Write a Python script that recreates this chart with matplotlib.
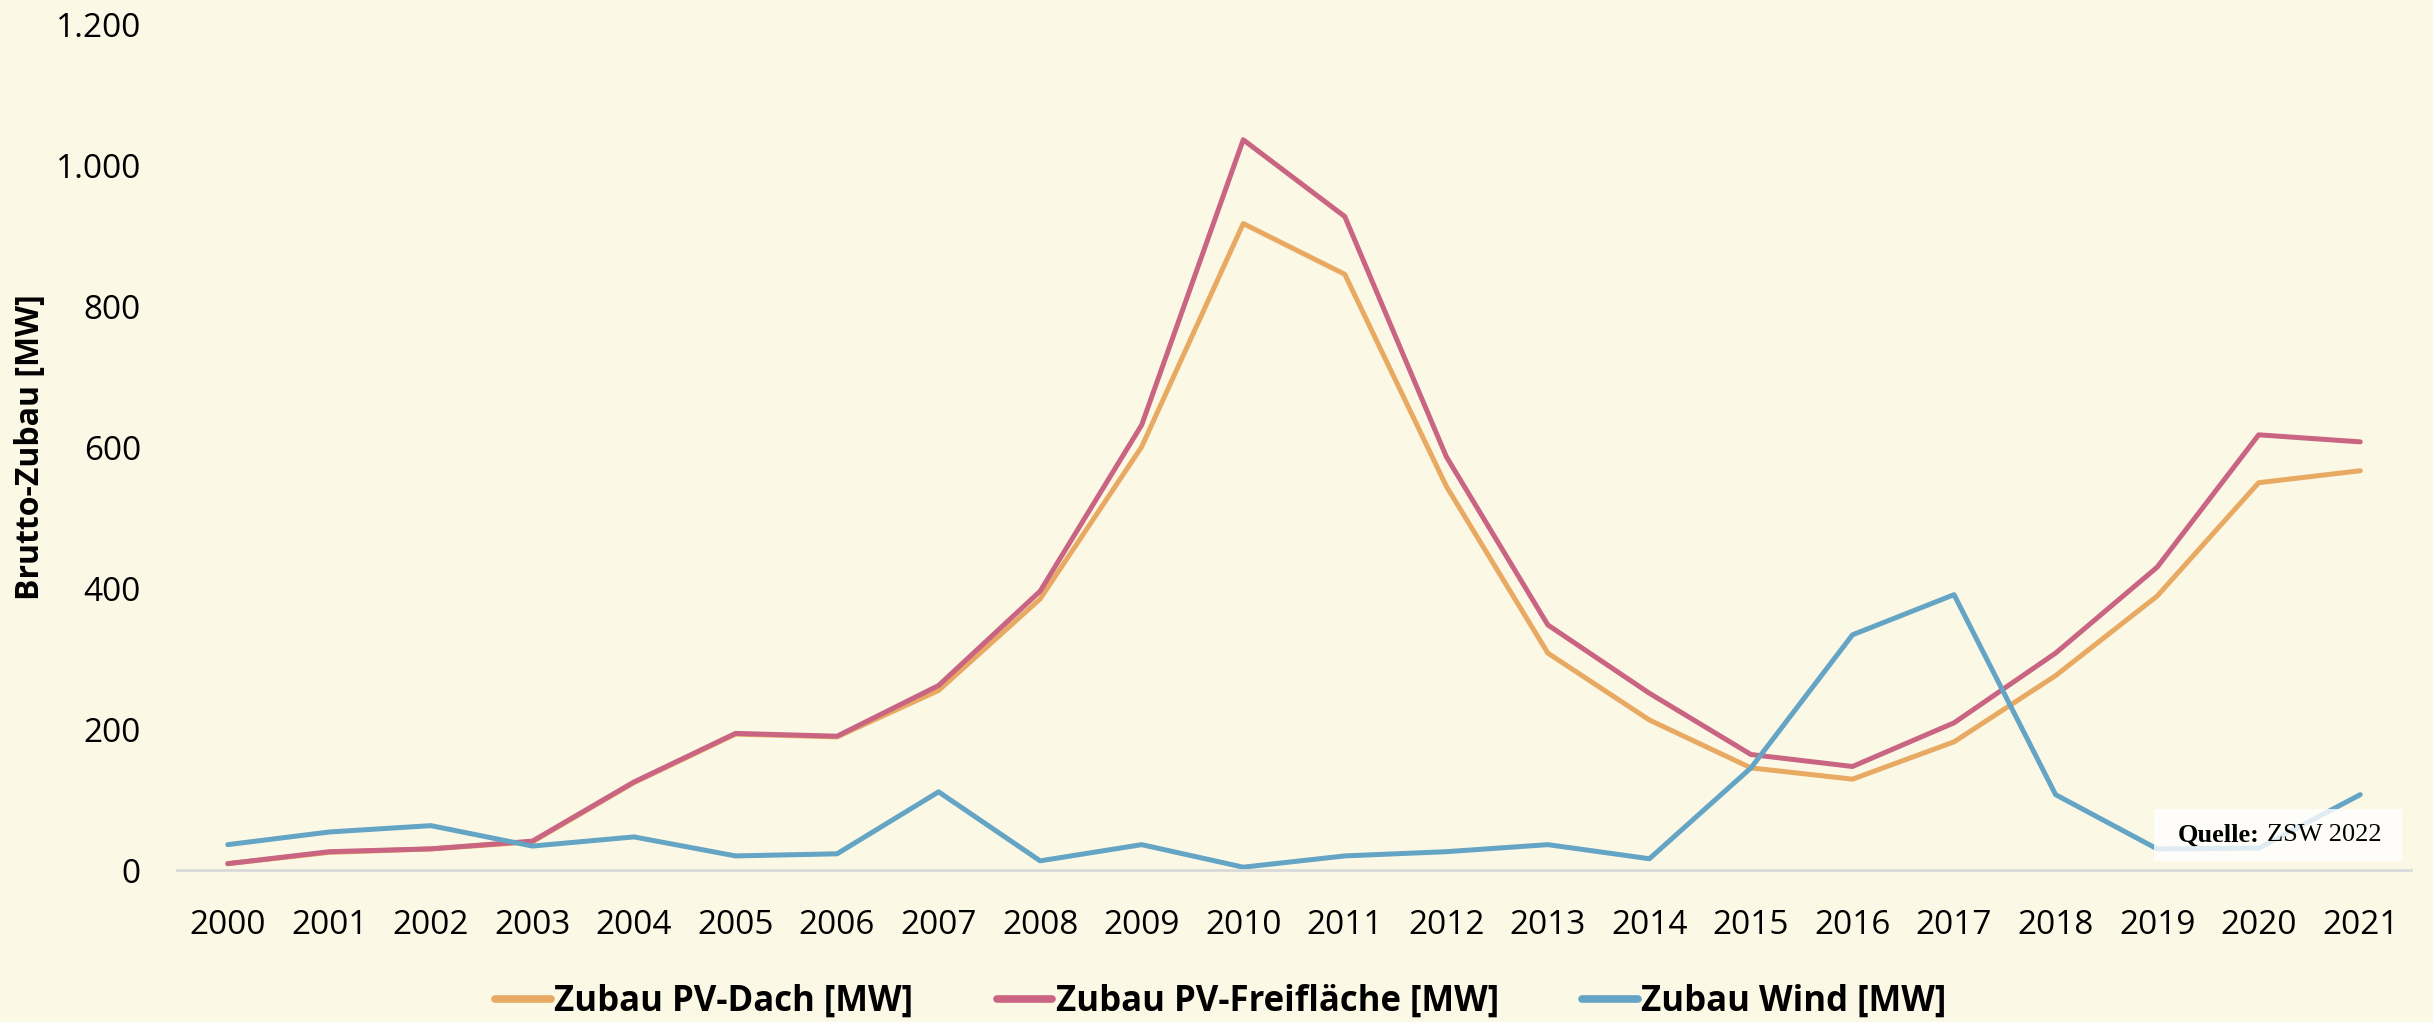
import matplotlib
matplotlib.use("Agg")
import matplotlib.pyplot as plt
from matplotlib.ticker import FuncFormatter, FixedLocator
from matplotlib.lines import Line2D
from matplotlib.patches import Rectangle

years = ["2000", "2001", "2002", "2003", "2004", "2005", "2006", "2007", "2008", "2009", "2010",
         "2011", "2012", "2013", "2014", "2015", "2016", "2017", "2018", "2019", "2020", "2021"]
pv_dach = [9, 25, 30, 40, 124, 193, 189, 255, 385, 601, 918,
           846, 545, 308, 213, 145, 129, 182, 276, 389, 550, 567]
pv_frei = [9, 26, 30, 41, 125, 194, 190, 262, 396, 632, 1037,
           928, 587, 348, 251, 164, 147, 209, 308, 430, 618, 608]
wind = [36, 54, 63, 34, 47, 20, 23, 111, 13, 36, 4,
        20, 26, 36, 16, 145, 334, 391, 107, 30, 31, 107]
series_names = ["Zubau PV-Dach [MW]", "Zubau PV-Freifläche [MW]", "Zubau Wind [MW]"]
y_ticks = [0, 200, 400, 600, 800, 1000, 1200]

BG = "#FCF8E6"
C_DACH = "#E8AA63"
C_FREI = "#C96482"
C_WIND = "#64A4C4"

plt.rcParams['font.family'] = ['Open Sans', 'DejaVu Sans']

W, H = 2433, 1022
fig = plt.figure(figsize=(W / 100, H / 100), dpi=100, facecolor=BG)
ax = fig.add_axes([177 / W, 1 - 870 / H, (2411 - 177) / W, (870 - 25) / H])
ax.set_facecolor(BG)

x = list(range(len(years)))
for vals, col, name in [(pv_dach, C_DACH, series_names[0]),
                        (pv_frei, C_FREI, series_names[1]),
                        (wind, C_WIND, series_names[2])]:
    ax.plot(x, vals, color=col, lw=3.6, solid_capstyle='round', solid_joinstyle='round', label=name)

ax.set_xlim(-0.5, len(years) - 0.5)
ax.set_ylim(0, 1200)
ax.xaxis.set_major_locator(FixedLocator(x))
ax.set_xticklabels(years)
ax.yaxis.set_major_locator(FixedLocator(y_ticks))
ax.yaxis.set_major_formatter(FuncFormatter(lambda v, p: f"{int(v):,}".replace(",", ".")))

for s in ["top", "right", "left"]:
    ax.spines[s].set_visible(False)
ax.spines["bottom"].set_color("#D9D9D9")
ax.spines["bottom"].set_linewidth(2)
ax.tick_params(axis='both', length=0, labelsize=24, colors='black')
ax.tick_params(axis='x', pad=28)
ax.tick_params(axis='y', pad=26)

ax.set_ylabel("Brutto-Zubau [MW]", fontsize=23, fontweight='bold')
ax.yaxis.set_label_coords((47 - 177) / (2411 - 177), 0.5)

# Source box
fig.patches.append(Rectangle((2154 / W, 1 - 861 / H), (2402 - 2154) / W, 52 / H,
                             transform=fig.transFigure, facecolor='white', edgecolor='none',
                             alpha=0.8, zorder=5))
fig.text(2260 / W, 1 - 835 / H, "Quelle:", ha='right', va='center', fontsize=19,
         family='Liberation Serif', fontweight='bold', zorder=6)
fig.text(2267 / W, 1 - 835 / H, "ZSW 2022", ha='left', va='center', fontsize=19,
         family='Liberation Serif', zorder=6)

handles = [Line2D([], [], color=c, lw=5.5, solid_capstyle='round') for c in (C_DACH, C_FREI, C_WIND)]
leg = fig.legend(handles, series_names, loc='center', bbox_to_anchor=(1221 / W, 1 - 1002 / H),
                 ncol=3, frameon=False, handlelength=1.6, handletextpad=0.1, columnspacing=2.4,
                 prop={'family': 'Open Sans', 'weight': 'bold', 'size': 25})

fig.savefig("out.png", dpi=100, facecolor=BG)
